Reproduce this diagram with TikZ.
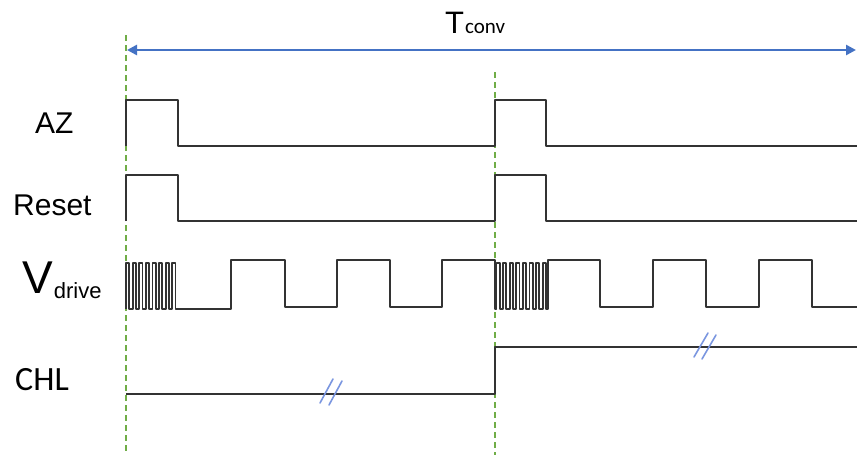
\documentclass[tikz,border=0pt]{standalone}
\usepackage{fontspec}
\setmainfont{Liberation Sans}
\newfontfamily\calibri{Carlito}
\usetikzlibrary{arrows.meta}
\definecolor{wave}{HTML}{333333}
\definecolor{marker}{HTML}{70AD47}
\definecolor{span}{HTML}{4472C4}
\definecolor{brk}{HTML}{7A96E0}
\tikzset{
  x=1pt, y=-1pt,
  signal/.style={draw=wave, line width=1.8pt, line join=round},
  phase/.style={draw=marker, line width=1.3pt, dash pattern=on 6pt off 4pt},
  spanarrow/.style={draw=span, line width=2.6pt, {Triangle[length=10pt,width=10pt]}-{Triangle[length=10pt,width=10pt]}},
  breakmark/.style={draw=brk, line width=1.6pt, line cap=round},
  lbl/.style={inner sep=0pt, anchor=base west, text=black},
}
\begin{document}
\begin{tikzpicture}
\useasboundingbox (0,0) rectangle (857,455);
\fill[white] (0,0) rectangle (857,455);

% phase boundaries
\draw[phase] (126,35) -- (126,455);
\draw[phase] (495,72) -- (495,455);

% conversion period
\coordinate (tstart) at (127,50);
\coordinate (tend) at (856,50);
\draw[spanarrow] (tstart) -- (tend);
\node[lbl] (tconv) at (445,33) {\fontsize{31}{31}\selectfont T\kern1pt{\calibri\fontsize{21}{21}\selectfont conv}};

% signal names
\node[lbl] (az) at (35,133) {\fontsize{30}{30}\selectfont AZ};
\node[lbl] (reset) at (13,215) {\fontsize{30}{30}\selectfont Reset};
\node[lbl] (vd) at (22,293) {\fontsize{46}{46}\selectfont V\kern1pt\raisebox{-5pt}{\fontsize{22}{22}\selectfont drive}};
\node[lbl] (chl) at (15,390) {\calibri\fontsize{34}{34}\selectfont CHL};

% AZ
\draw[signal] (126,146) -- (126,100) -- (178,100) -- (178,146) -- (495,146)
  -- (495,100) -- (546,100) -- (546,146) -- (857,146);
% Reset
\draw[signal] (126,221) -- (126,175) -- (178,175) -- (178,221) -- (495,221)
  -- (495,175) -- (546,175) -- (546,221) -- (857,221);

% Vdrive: fast burst, then slow square wave
\draw[signal] (126,309)
  \foreach \i in {0,...,7} { -- ({126+6.6*\i},309) -- ({126+6.6*\i},263)
     -- ({129.3+6.6*\i},263) -- ({129.3+6.6*\i},309) }
  -- (231,309) -- (231,260) -- (285,260) -- (285,307) -- (337,307)
  -- (337,260) -- (390,260) -- (390,307) -- (442,307) -- (442,260) -- (495,260)
  -- (495,309)
  \foreach \i in {0,...,7} { -- ({496.5+6.6*\i},309) -- ({496.5+6.6*\i},263)
     -- ({499.7+6.6*\i},263) -- ({499.7+6.6*\i},309) }
  -- (548,309) -- (548,260) -- (600,260) -- (600,307) -- (653,307)
  -- (653,260) -- (706,260) -- (706,307) -- (759,307) -- (759,260) -- (812,260)
  -- (812,307) -- (857,307);

% CHL
\draw[signal] (126,394) -- (495,394) -- (495,347) -- (857,347);

% break marks
\draw[breakmark] (320,403) -- (333,379);
\draw[breakmark] (329,405) -- (342,381);
\draw[breakmark] (694,357) -- (708,333);
\draw[breakmark] (702,359) -- (716,335);
\end{tikzpicture}
\end{document}
